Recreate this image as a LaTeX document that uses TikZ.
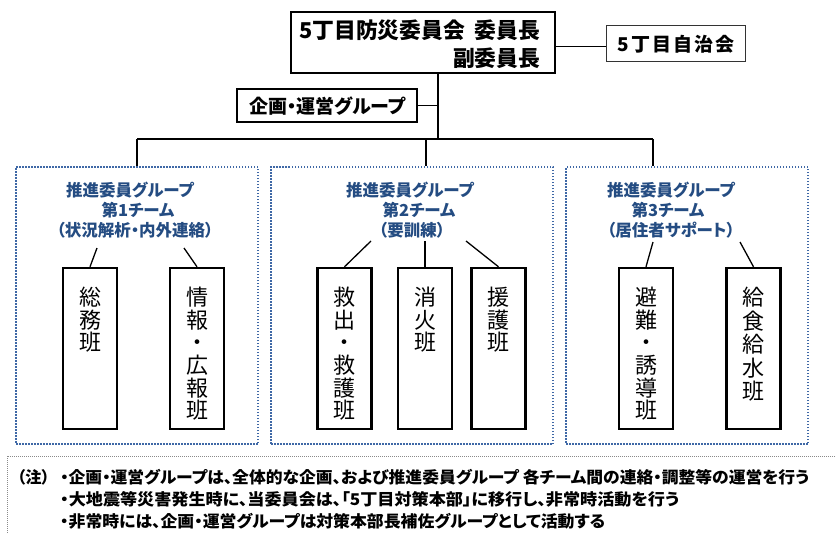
\documentclass[tikz,border=0pt]{standalone}
\usepackage{graphicx}
\usepackage{fontspec}
\newfontfamily\jp{Noto Sans CJK JP}[RawFeature=+palt]
\newfontfamily\jpf{Noto Sans CJK JP}
\definecolor{grpblue}{HTML}{3F68A6}
\definecolor{ttlblue}{HTML}{244C82}
\definecolor{notegray}{HTML}{8A8A8A}
\begin{document}
\begin{tikzpicture}[x=1pt,y=-1pt,
  thickbox/.style={draw, line width=2.4pt, inner sep=0, fill=white},
  thinbox/.style={draw=black!80, line width=1pt, inner sep=0, fill=white},
  teambox/.style={draw, line width=2.4pt, inner sep=0, minimum width=54pt, minimum height=161pt},
  teamtxt/.style={anchor=north, inner sep=0, align=center, font=\jpf\fontsize{22}{22.6}\selectfont},
  grpbox/.style={draw=grpblue, line width=1.9pt, dash pattern=on 1.5pt off 1.5pt},
  ttl/.style={inner sep=0, text=ttlblue, font=\jp\bfseries\fontsize{16.5}{18}\selectfont},
  conn/.style={line width=1.3pt},
  note/.style={anchor=west, inner sep=0, font=\jp\bfseries\fontsize{16.2}{17}\selectfont}
]
\useasboundingbox (0,0) rectangle (836,533);
\fill[white] (0,0) rectangle (836,533);

% note box
\draw[notegray, line width=0.9pt, dash pattern=on 1pt off 1pt] (7,456) rectangle (845,545);

% top boxes
\node[thickbox, minimum width=264pt, minimum height=61pt] (top) at (423,42.5) {};
\node[inner sep=0, anchor=west, font=\jpf\bfseries\fontsize{21.8}{22}\selectfont] (toptxt1) at (299,30) {5丁目防災委員会\hspace{0.45em}委員長};
\node[inner sep=0, anchor=east, font=\jpf\bfseries\fontsize{21.8}{22}\selectfont] (toptxt2) at (toptxt1.east |- 0,58) {副委員長};

\node[thinbox, minimum width=139pt, minimum height=36pt] (jichi) at (675.5,43) {};
\node[inner sep=0, font=\jp\bfseries\fontsize{19}{20}\selectfont] (jichitxt) at (676,44) {\addfontfeature{LetterSpace=11}5丁目自治会};

\node[draw, line width=2pt, inner sep=0, fill=white, minimum width=180pt, minimum height=33pt] (kikaku) at (327,105.5) {};
\node[inner sep=0, font=\jp\bfseries\fontsize{19}{20}\selectfont] (kikakutxt) at (327.5,106) {企画・運営グループ};

% connectors top
\coordinate (ylev) at (0,46.5);
\draw[conn] (top.east |- ylev) -- (jichi.west |- ylev);
\coordinate (v) at (438,139);
\draw[conn] (top.south -| v) -- (v);
\draw[conn] (kikaku.east) -- (kikaku.east -| v);
\coordinate (hl) at (137,139);
\coordinate (hr) at (653,139);
\draw[line width=2pt] (hl) -- (hr);

% group boxes
\node[grpbox, minimum width=242pt, minimum height=277pt, inner sep=0] (g1) at (137,305.5) {};
\node[grpbox, minimum width=282pt, minimum height=277pt, inner sep=0] (g2) at (412,305.5) {};
\node[grpbox, minimum width=242pt, minimum height=277pt, inner sep=0] (g3) at (687,305.5) {};

\coordinate (d2) at (426,139);
\draw[conn] (hl) -- (g1.north);
\draw[conn] (d2) -- (g2.north -| d2);
\draw[conn] (hr) -- (g3.north -| hr);

% titles
\node[ttl] (g1t1) at (130,190) {推進委員グループ};
\node[ttl] (g1t2) at (138,210) {第1チーム};
\node[ttl] (g1t3) at (135,230) {（状況解析・内外連絡）};
\node[ttl] (g2t1) at (410,190) {推進委員グループ};
\node[ttl] (g2t2) at (419,210) {第2チーム};
\node[ttl] (g2t3) at (412,230) {（要訓練）};
\node[ttl] (g3t1) at (671,190) {推進委員グループ};
\node[ttl] (g3t2) at (668,210) {第3チーム};
\node[ttl] (g3t3) at (671,230) {（居住者サポート）};

% team boxes
\node[teambox] (t1a) at (90,348.5) {};
\node[teambox] (t1b) at (197,348.5) {};
\node[teambox] (t2a) at (344.5,348.5) {};
\node[teambox] (t2b) at (425,348.5) {};
\node[teambox] (t2c) at (498.5,348.5) {};
\node[teambox] (t3a) at (646,348.5) {};
\node[teambox] (t3b) at (753.5,348.5) {};

\node[teamtxt] (t1atx) at (90,287) {総\\務\\班};
\node[teamtxt] (t1btx) at (197,287) {情\\報\\・\\広\\報\\班};
\node[teamtxt] (t2atx) at (344.5,287) {救\\出\\・\\救\\護\\班};
\node[teamtxt] (t2btx) at (425,287) {消\\火\\班};
\node[teamtxt] (t2ctx) at (498.5,287) {援\\護\\班};
\node[teamtxt] (t3atx) at (646,287) {避\\難\\・\\誘\\導\\班};
\node[teamtxt, font=\jpf\fontsize{22}{23.5}\selectfont] (t3btx) at (753.5,287) {給\\食\\給\\水\\班};

% team connectors
\coordinate (c1a) at (97,248);
\coordinate (c1b) at (184,248);
\coordinate (c2a) at (371,241);
\coordinate (c2b) at (425,241);
\coordinate (c2c) at (466,241);
\coordinate (c3a) at (653,242);
\coordinate (c3b) at (740,242);
\draw[conn] (c1a) -- (t1a.north);
\draw[conn] (c1b) -- (t1b.north);
\draw[conn] (c2a) -- (t2a.north);
\draw[conn] (c2b) -- (t2b.north);
\draw[conn] (c2c) -- (t2c.north);
\draw[conn] (c3a) -- (t3a.north);
\draw[conn] (c3b) -- (t3b.north);

% notes
\node[note] (n0) at (17,477) {（注）};
\node[note] (n1) at (60,477) {\resizebox{749pt}{\height}{・企画・運営グループは、全体的な企画、および推進委員グループ 各チーム間の連絡・調整等の運営を行う}};
\node[note] (n2) at (60,499.5) {\resizebox{619pt}{\height}{・大地震等災害発生時に、当委員会は、「5丁目対策本部」に移行し、非常時活動を行う}};
\node[note] (n3) at (60,521.5) {\resizebox{545pt}{\height}{・非常時には、企画・運営グループは対策本部長補佐グループとして活動する}};
\end{tikzpicture}
\end{document}
